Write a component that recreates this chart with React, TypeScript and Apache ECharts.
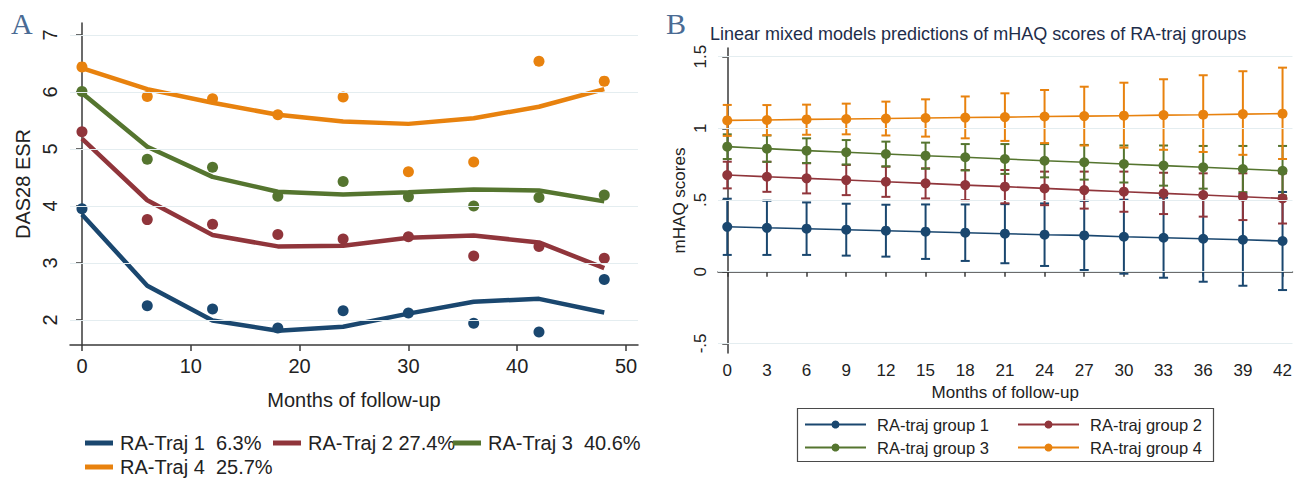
import React, { useEffect, useRef } from "react";
import * as echarts from "echarts";

// ---------- Panel A data ----------
const monthsA = [0, 6, 12, 18, 24, 30, 36, 42, 48];
const traj1Obs = [3.95, 2.25, 2.19, 1.86, 2.16, 2.12, 1.94, 1.79, 2.71];
const traj1Fit = [3.85, 2.6, 1.99, 1.81, 1.88, 2.11, 2.32, 2.37, 2.13];
const traj2Obs = [5.3, 3.76, 3.68, 3.5, 3.42, 3.46, 3.12, 3.29, 3.08];
const traj2Fit = [5.18, 4.1, 3.49, 3.29, 3.3, 3.44, 3.48, 3.36, 2.91];
const traj3Obs = [6.01, 4.82, 4.68, 4.17, 4.43, 4.16, 4.0, 4.15, 4.19];
const traj3Fit = [5.98, 5.04, 4.51, 4.25, 4.2, 4.24, 4.29, 4.27, 4.08];
const traj4Obs = [6.44, 5.92, 5.88, 5.6, 5.91, 4.6, 4.77, 6.54, 6.19];
const traj4Fit = [6.42, 6.05, 5.81, 5.6, 5.48, 5.44, 5.54, 5.74, 6.05];
const namesA = ["RA-Traj 1  6.3%", "RA-Traj 2 27.4%", "RA-Traj 3  40.6%", "RA-Traj 4  25.7%"];
const xTicksA = [0, 10, 20, 30, 40, 50];
const yTicksA = [2, 3, 4, 5, 6, 7];

// ---------- Panel B data ----------
const monthsB = [0, 3, 6, 9, 12, 15, 18, 21, 24, 27, 30, 33, 36, 39, 42];
const g1Mean = [0.313, 0.306, 0.3, 0.293, 0.286, 0.279, 0.272, 0.265, 0.258, 0.253, 0.244, 0.237, 0.23, 0.223, 0.214];
const g1Lo = [0.117, 0.117, 0.117, 0.112, 0.105, 0.089, 0.075, 0.059, 0.04, 0.012, -0.014, -0.042, -0.07, -0.098, -0.128];
const g1Hi = [0.509, 0.495, 0.483, 0.474, 0.467, 0.469, 0.469, 0.471, 0.476, 0.494, 0.502, 0.516, 0.53, 0.544, 0.556];
const g2Mean = [0.674, 0.662, 0.651, 0.639, 0.627, 0.616, 0.604, 0.593, 0.581, 0.569, 0.558, 0.546, 0.535, 0.523, 0.511];
const g2Lo = [0.581, 0.557, 0.546, 0.534, 0.522, 0.511, 0.499, 0.477, 0.464, 0.44, 0.418, 0.402, 0.384, 0.36, 0.336];
const g2Hi = [0.767, 0.767, 0.756, 0.744, 0.732, 0.721, 0.709, 0.709, 0.698, 0.698, 0.698, 0.69, 0.686, 0.686, 0.686];
const g3Mean = [0.872, 0.858, 0.844, 0.833, 0.821, 0.809, 0.798, 0.786, 0.774, 0.763, 0.751, 0.74, 0.728, 0.716, 0.704];
const g3Lo = [0.786, 0.766, 0.758, 0.748, 0.735, 0.718, 0.706, 0.682, 0.658, 0.642, 0.622, 0.6, 0.579, 0.555, 0.531];
const g3Hi = [0.958, 0.95, 0.93, 0.918, 0.907, 0.9, 0.89, 0.89, 0.89, 0.884, 0.88, 0.88, 0.877, 0.877, 0.877];
const g4Mean = [1.055, 1.058, 1.062, 1.065, 1.068, 1.072, 1.075, 1.078, 1.082, 1.085, 1.088, 1.092, 1.095, 1.099, 1.102];
const g4Lo = [0.947, 0.952, 0.955, 0.958, 0.95, 0.942, 0.93, 0.912, 0.897, 0.88, 0.865, 0.85, 0.835, 0.815, 0.786];
const g4Hi = [1.163, 1.162, 1.165, 1.172, 1.186, 1.202, 1.222, 1.244, 1.267, 1.29, 1.318, 1.342, 1.37, 1.398, 1.423];
const namesB = ["RA-traj group 1", "RA-traj group 2", "RA-traj group 3", "RA-traj group 4"];
const xTicksB = [0, 3, 6, 9, 12, 15, 18, 21, 24, 27, 30, 33, 36, 39, 42];
const yTicksB = [-0.5, 0, 0.5, 1, 1.5];

const COLORS = ["#1a476f", "#90353b", "#55752f", "#e8820e"];
const FONT = '"Liberation Sans", Arial, sans-serif';
const GRID_COLOR = "#e4edf0";
const AXIS_COLOR = "#3a3a3a";
const TEXT_COLOR = "#222";
const FS_A = 20;
const FS_B_AX = 17;
const FS_B_TITLE = 18;
const FS_B_LEG = 16.5;

const pair = (xs: number[], ys: number[]) => xs.map((x, i) => [x, ys[i]]);
const triple = (xs: number[], lo: number[], hi: number[]) => xs.map((x, i) => [x, lo[i], hi[i]]);

export default function App() {
  const ref = useRef<HTMLDivElement>(null);
  useEffect(() => {
    if (!ref.current) return;
    const chart = echarts.init(ref.current, undefined, { renderer: "svg" });

    const obsA = [traj1Obs, traj2Obs, traj3Obs, traj4Obs];
    const fitA = [traj1Fit, traj2Fit, traj3Fit, traj4Fit];
    const meansB = [g1Mean, g2Mean, g3Mean, g4Mean];
    const losB = [g1Lo, g2Lo, g3Lo, g4Lo];
    const hisB = [g1Hi, g2Hi, g3Hi, g4Hi];

    const series: any[] = [];
    fitA.forEach((fit, k) => {
      series.push({
        type: "line",
        name: namesA[k],
        xAxisIndex: 0,
        yAxisIndex: 0,
        data: pair(monthsA, fit),
        showSymbol: false,
        symbol: "none",
        lineStyle: { color: COLORS[k], width: 4.5 },
        itemStyle: { color: COLORS[k] },
        z: 2,
      });
      series.push({
        type: "scatter",
        name: namesA[k] + " obs",
        xAxisIndex: 0,
        yAxisIndex: 0,
        data: pair(monthsA, obsA[k]),
        symbol: "circle",
        symbolSize: 11,
        itemStyle: { color: COLORS[k], opacity: 1 },
        z: 3,
      });
    });

    losB.forEach((lo, k) => {
      const color = COLORS[k];
      series.push({
        type: "custom",
        name: namesB[k] + " CI",
        xAxisIndex: 1,
        yAxisIndex: 1,
        data: triple(monthsB, lo, hisB[k]),
        encode: { x: 0, y: [1, 2] },
        z: 2,
        renderItem: (params: any, api: any) => {
          const x = api.value(0);
          const pLo = api.coord([x, api.value(1)]);
          const pHi = api.coord([x, api.value(2)]);
          const hw = 4.5;
          const st = { stroke: color, lineWidth: 2, fill: "none" };
          return {
            type: "group",
            children: [
              { type: "line", shape: { x1: pLo[0], y1: pLo[1], x2: pHi[0], y2: pHi[1] }, style: st },
              { type: "line", shape: { x1: pLo[0] - hw, y1: pLo[1], x2: pLo[0] + hw, y2: pLo[1] }, style: st },
              { type: "line", shape: { x1: pHi[0] - hw, y1: pHi[1], x2: pHi[0] + hw, y2: pHi[1] }, style: st },
            ],
          };
        },
      });
    });
    meansB.forEach((m, k) => {
      series.push({
        type: "line",
        name: namesB[k],
        xAxisIndex: 1,
        yAxisIndex: 1,
        data: pair(monthsB, m),
        symbol: "circle",
        symbolSize: 10,
        showSymbol: true,
        lineStyle: { color: COLORS[k], width: 1.6 },
        itemStyle: { color: COLORS[k] },
        z: 4,
      });
    });

    // grid lines via markLine (drawn through the axis scale)
    series.push({
      type: "line",
      name: "gridA",
      xAxisIndex: 0,
      yAxisIndex: 0,
      data: [],
      silent: true,
      z: 0,
      markLine: {
        silent: true,
        symbol: "none",
        label: { show: false },
        lineStyle: { color: GRID_COLOR, width: 1.2, type: "solid" },
        data: yTicksA.map((v) => ({ yAxis: v })),
      },
    });
    series.push({
      type: "line",
      name: "gridB",
      xAxisIndex: 1,
      yAxisIndex: 1,
      data: [],
      silent: true,
      z: 0,
      markLine: {
        silent: true,
        symbol: "none",
        label: { show: false },
        lineStyle: { color: GRID_COLOR, width: 1.2, type: "solid" },
        data: yTicksB.map((v) => ({ yAxis: v })),
      },
    });

    const legendBase = {
      padding: 0,
      selectedMode: false,
      itemGap: 0,
    };
    const legA = (name: string, left: number, top: number) => ({
      ...legendBase,
      data: [{ name, icon: "rect" }],
      left,
      top,
      itemWidth: 28,
      itemHeight: 5,
      textStyle: { fontSize: FS_A, color: TEXT_COLOR, fontFamily: FONT, padding: [0, 0, 0, 2] },
    });
    const legB = (name: string, left: number, top: number) => ({
      ...legendBase,
      data: [name],
      left,
      top,
      itemWidth: 61,
      itemHeight: 10,
      textStyle: { fontSize: FS_B_LEG, color: TEXT_COLOR, fontFamily: FONT, padding: [0, 0, 0, 6] },
    });

    const option: any = {
      animation: false,
      backgroundColor: "#ffffff",
      textStyle: { fontFamily: FONT },
      title: {
        text: "Linear mixed models predictions of mHAQ scores of RA-traj groups",
        left: 710,
        top: 25,
        padding: 0,
        textStyle: { fontSize: FS_B_TITLE, fontWeight: "normal", color: "#1e2d4a", fontFamily: FONT },
      },
      legend: [
        legA(namesA[0], 85, 433),
        legA(namesA[1], 273, 433),
        legA(namesA[2], 453, 433),
        legA(namesA[3], 85, 457),
        legB(namesB[0], 804, 416),
        legB(namesB[1], 1017, 416),
        legB(namesB[2], 804, 439),
        legB(namesB[3], 1017, 439),
      ],
      grid: [
        { left: 70, top: 23, width: 568, height: 322 },
        { left: 718, top: 48, width: 575, height: 305 },
      ],
      xAxis: [
        {
          type: "value",
          gridIndex: 0,
          min: -1.1,
          max: 51.1,
          name: "Months of follow-up",
          nameLocation: "middle",
          nameGap: 45,
          nameTextStyle: { fontSize: FS_A, color: TEXT_COLOR, fontFamily: FONT },
          axisLine: { show: true, lineStyle: { color: AXIS_COLOR, width: 1.5 } },
          axisTick: { show: true, length: 6, customValues: xTicksA, lineStyle: { color: AXIS_COLOR, width: 1.5 } },
          axisLabel: { customValues: xTicksA, fontSize: FS_A, color: TEXT_COLOR, margin: 11, fontFamily: FONT },
          splitLine: { show: false },
        },
        {
          type: "value",
          gridIndex: 1,
          min: -0.7,
          max: 42.75,
          name: "Months of follow-up",
          nameLocation: "middle",
          nameGap: 28,
          nameTextStyle: { fontSize: FS_B_AX, color: TEXT_COLOR, fontFamily: FONT },
          axisLine: { show: true, lineStyle: { color: AXIS_COLOR, width: 1.5 } },
          axisTick: { show: true, length: 5, customValues: xTicksB, lineStyle: { color: AXIS_COLOR, width: 1.5 } },
          axisLabel: { customValues: xTicksB, fontSize: FS_B_AX, color: TEXT_COLOR, margin: 9, fontFamily: FONT },
          splitLine: { show: false },
        },
      ],
      yAxis: [
        {
          type: "value",
          gridIndex: 0,
          min: 1.56,
          max: 7.21,
          name: "DAS28 ESR",
          nameLocation: "middle",
          nameGap: 37,
          nameTextStyle: { fontSize: FS_A, color: TEXT_COLOR, fontFamily: FONT },
          axisLine: { show: true, lineStyle: { color: AXIS_COLOR, width: 1.5 } },
          axisTick: { show: true, length: 6, customValues: yTicksA, lineStyle: { color: AXIS_COLOR, width: 1.5 } },
          axisLabel: { customValues: yTicksA, rotate: 90, fontSize: FS_A, color: TEXT_COLOR, margin: 10, fontFamily: FONT },
          splitLine: { show: false },
        },
        {
          type: "value",
          gridIndex: 1,
          min: -0.567,
          max: 1.56,
          name: "mHAQ scores",
          nameLocation: "middle",
          nameGap: 30,
          nameTextStyle: { fontSize: FS_B_AX, color: TEXT_COLOR, fontFamily: FONT },
          axisLine: { show: true, lineStyle: { color: AXIS_COLOR, width: 1.5 } },
          axisTick: { show: true, length: 5, customValues: yTicksB, lineStyle: { color: AXIS_COLOR, width: 1.5 } },
          axisLabel: {
            customValues: yTicksB,
            rotate: 90,
            fontSize: FS_B_AX,
            color: TEXT_COLOR,
            margin: 9,
            fontFamily: FONT,
            formatter: (v: number) => (v === 0 ? "0" : String(v).replace("0.", ".")),
          },
          splitLine: { show: false },
        },
      ],
      graphic: [
        { type: "text", left: 11, top: 8, style: { text: "A", font: '30px "Liberation Serif", serif', fill: "#4a6b94" } },
        { type: "text", left: 666, top: 8, style: { text: "B", font: '30px "Liberation Serif", serif', fill: "#4a6b94" } },
        {
          type: "rect",
          shape: { x: 797.5, y: 408.5, width: 416, height: 53 },
          style: { fill: "none", stroke: "#4a4a4a", lineWidth: 1.2 },
          z: 10,
        },
      ],
      series,
    };
    chart.setOption(option);
    return () => chart.dispose();
  }, []);

  return (
    <div
      ref={ref}
      style={{ position: "fixed", left: 0, top: 0, width: 1295, height: 478, background: "#fff" }}
    />
  );
}
